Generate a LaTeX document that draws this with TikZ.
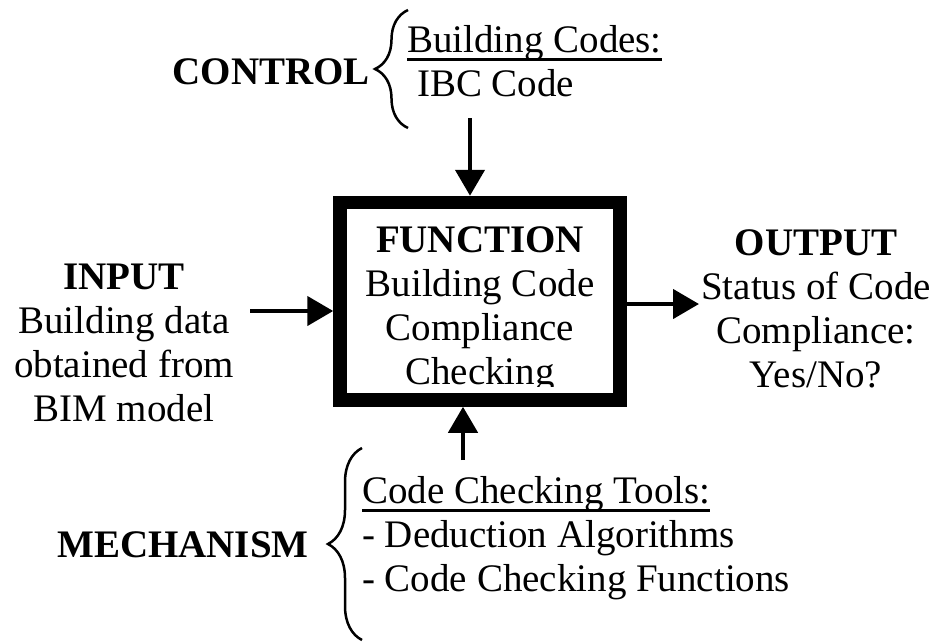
\documentclass[tikz,border=0pt]{standalone}
\usepackage{fontspec}
\setmainfont{Liberation Serif}
\usetikzlibrary{arrows.meta,decorations.pathreplacing}
\newcommand\headfont{\normalfont\bfseries\fontsize{39}{44}\selectfont}
\newsavebox\ulinedbox
\newcommand\ulined[1]{\sbox\ulinedbox{#1}\rlap{\rule[-8.75pt]{\wd\ulinedbox}{2.5pt}}\usebox\ulinedbox}

\begin{document}
\begin{tikzpicture}[
        x=1pt, y=-1pt, % координаты как в пикселях
        func/.style = {draw, line width=13.5pt, minimum width=280pt, minimum height=197.5pt}, % блок функции
        head/.style = {font=\headfont, inner sep=0pt},
        txt/.style = {font=\fontsize{39}{44}\selectfont, inner sep=0pt}, % обычный текст
        flow/.style = {line width=4.5pt, -{Triangle[length=26pt, width=29pt]}},
        curly/.style = {decorate, decoration={brace, amplitude=#1}, line width=2.5pt},
    ]
    \useasboundingbox (0,0) rectangle (935,641);

    % блок
    \node[func] (func) at (480,301.25) {};
    \begin{scope}
        \clip (347,209) rectangle (613,386);
        \node[txt, align=center, anchor=base] (functext) at (480,384) {{\headfont FUNCTION}\\Building Code\\Compliance\\Checking};
    \end{scope}

    % управление
    \node[head, anchor=base east] (control) at (370,84) {CONTROL};
    \draw[curly=33pt] (408,128) -- (408,10);
    \node[txt, align=left, anchor=base west] (codes) at (407,96) {\ulined{Building Codes:}\\\hspace*{10pt}IBC Code};
    \coordinate (codesend) at (470,118);
    \draw[flow] (codesend) -- (codesend |- func.north);

    % вход и выход
    \node[txt, align=center, anchor=base] (input) at (124,421) {{\headfont INPUT}\\Building data\\obtained from\\BIM model};
    \coordinate (inputend) at (250,311);
    \draw[flow] (inputend) -- (inputend -| func.west);
    \node[txt, align=center, anchor=base] (output) at (816,387) {{\headfont OUTPUT}\\Status of Code\\Compliance:\\Yes/No?};
    \coordinate (outputend) at (699,304);
    \draw[flow] (func.east |- outputend) -- (outputend);

    % механизм
    \node[head, anchor=base west] (mechanism) at (57,557) {MECHANISM};
    \draw[curly=34pt] (362,640) -- (362,448);
    \node[txt, align=left, anchor=base west] (tools) at (362,591) {\ulined{Code Checking Tools:}\\- Deduction Algorithms\\- Code Checking Functions};
    \coordinate (toolsend) at (463,460);
    \draw[flow] (toolsend) -- (toolsend |- func.south);
\end{tikzpicture}
\end{document}
